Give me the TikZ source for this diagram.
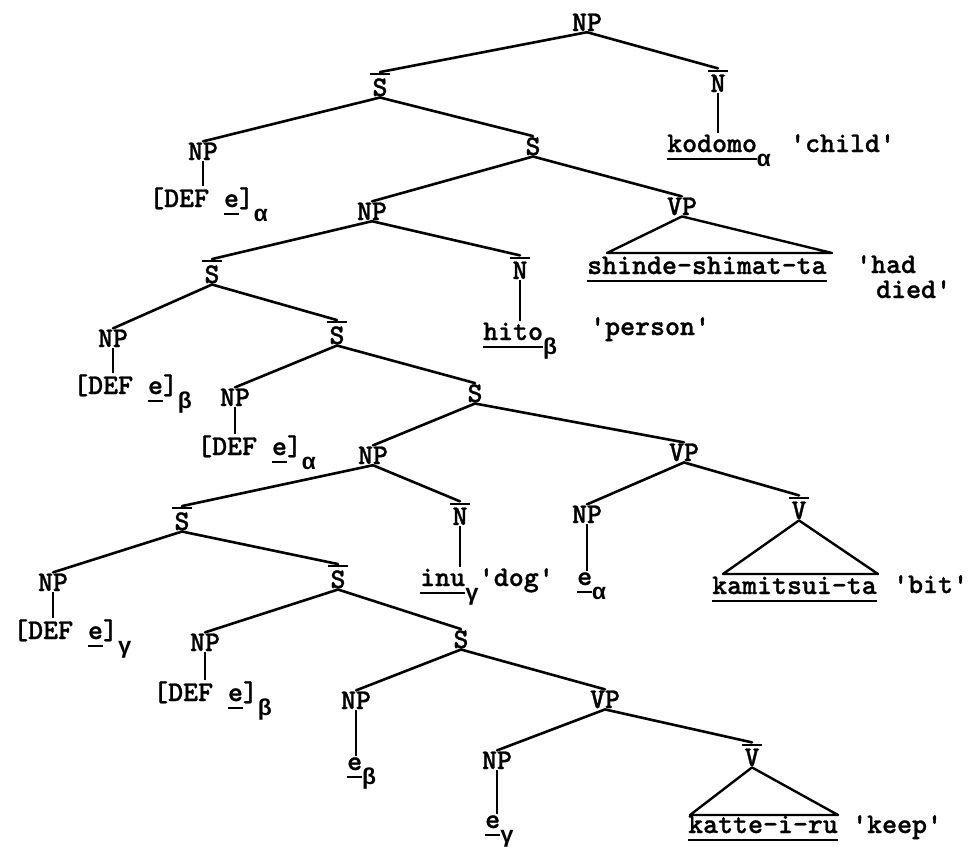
\documentclass[tikz,border=0pt]{standalone}
\usepackage{fontspec}
\setmonofont{lmmonolt10-bold.otf}[FakeBold=1]
\newfontfamily\grk{Liberation Mono}
\newsavebox\tmpbox
\newcommand{\ulw}[1]{\sbox\tmpbox{#1}\rlap{\rule[-7.5pt]{\wd\tmpbox}{2pt}}\usebox\tmpbox}
\newcommand{\ovb}[1]{\sbox\tmpbox{#1}\rlap{\kern-2.5pt\rule[\dimexpr\ht\tmpbox+3pt\relax]{\dimexpr\wd\tmpbox+5pt\relax}{2pt}}\usebox\tmpbox}
\newcommand{\gsub}[1]{\raisebox{-14pt}{\fontsize{23}{23}\grk\bfseries\selectfont #1}}
\newcommand{\twfont}{\fontsize{28.5}{30}\ttfamily\selectfont}
\begin{document}
\begin{tikzpicture}[x=1pt,y=-1pt,
  cat/.style={anchor=base, inner sep=1pt, font=\twfont},
  word/.style={anchor=base west, inner sep=1pt, font=\twfont},
  br/.style={line width=2.6pt, line cap=round},
  vl/.style={line width=1.8pt},
  tri/.style={line width=2.4pt, line join=round}]
\useasboundingbox (0,0) rectangle (971,846);

% nodes
\node[cat] (np0) at (587,31) {NP};
\node[cat] (sb1) at (380,96) {\ovb{S}};
\node[cat] (nb1) at (718,92) {\ovb{N}};
\node[word] (kod) at (666,152) {\ulw{kodomo}\gsub{α}};
\node[word] (gchild) at (789,152) {'child'};
\node[cat] (np2) at (203,160) {NP};
\node[word] (def1) at (148,207) {[DEF \ulw{e}]\gsub{α}};
\node[cat] (s3) at (533,155) {S};
\node[cat] (np4) at (372,220) {NP};
\node[cat] (vp5) at (682,215) {VP};
\node[word] (shin) at (586,274) {\ulw{shinde-shimat-ta}};
\node[word, inner sep=0pt] (ghad) at (856,273) {'had};
\node[word, inner sep=0pt] (gdied) at (876,298) {died'};
\node[cat] (sb6) at (212,283) {\ovb{S}};
\node[cat] (nb7) at (520,279) {\ovb{N}};
\node[word] (hito) at (482,340) {\ulw{hito}\gsub{β}};
\node[word] (gperson) at (589,335) {'person'};
\node[cat] (np8) at (113,347) {NP};
\node[word] (def2) at (72,394) {[DEF \ulw{e}]\gsub{β}};
\node[cat] (sb9) at (337,344) {\ovb{S}};
\node[cat] (np10) at (235,406) {NP};
\node[word] (def3) at (196,455) {[DEF \ulw{e}]\gsub{α}};
\node[cat] (s11) at (475,402) {S};
\node[cat] (np12) at (373,464) {NP};
\node[cat] (vp13) at (684,461) {VP};
\node[cat] (sb14) at (182,530) {\ovb{S}};
\node[cat] (nb15) at (460,525) {\ovb{N}};
\node[word] (inu) at (419,586) {\ulw{inu}\gsub{γ}'dog'};
\node[cat] (np16) at (587,523) {NP};
\node[word] (ea) at (576,585) {\ulw{e}\gsub{α}};
\node[cat] (vb17) at (799,519) {\ovb{V}};
\node[word] (kami) at (711,594) {\ulw{kamitsui-ta}};
\node[word] (gbit) at (892,593) {'bit'};
\node[cat] (np18) at (53,591) {NP};
\node[word] (def4) at (12,639) {[DEF \ulw{e}]\gsub{γ}};
\node[cat] (sb19) at (338,588) {\ovb{S}};
\node[cat] (np20) at (205,651) {NP};
\node[word] (def5) at (152,701) {[DEF \ulw{e}]\gsub{β}};
\node[cat] (s21) at (461,648) {S};
\node[cat] (np22) at (356,709) {NP};
\node[word] (eb) at (346,770) {\ulw{e}\gsub{β}};
\node[cat] (vp23) at (605,708) {VP};
\node[cat] (np24) at (497,769) {NP};
\node[word] (eg) at (484,828) {\ulw{e}\gsub{γ}};
\node[cat] (vb25) at (752,766) {\ovb{V}};
\node[word] (katte) at (687,833) {\ulw{katte-i-ru}};
\node[word] (gkeep) at (851,833) {'keep'};

% triangle base corners
\coordinate (t1l) at (607,253);
\coordinate (t1r) at (832,253);
\coordinate (t2l) at (723,574);
\coordinate (t2r) at (878,574);
\coordinate (t3l) at (690,815);
\coordinate (t3r) at (838,815);

% branches
\draw[br] (np0.south) -- (sb1.north);
\draw[br] (np0.south) -- (nb1.north);
\draw[br] (sb1.south) -- (np2.north);
\draw[br] (sb1.south) -- (s3.north);
\draw[br] (s3.south) -- (np4.north);
\draw[br] (s3.south) -- (vp5.north);
\draw[br] (np4.south) -- (sb6.north);
\draw[br] (np4.south) -- (nb7.north);
\draw[br] (sb6.south) -- (np8.north);
\draw[br] (sb6.south) -- (sb9.north);
\draw[br] (sb9.south) -- (np10.north);
\draw[br] (sb9.south) -- (s11.north);
\draw[br] (s11.south) -- (np12.north);
\draw[br] (s11.south) -- (vp13.north);
\draw[br] (np12.south) -- (sb14.north);
\draw[br] (np12.south) -- (nb15.north);
\draw[br] (vp13.south) -- (np16.north);
\draw[br] (vp13.south) -- (vb17.north);
\draw[br] (sb14.south) -- (np18.north);
\draw[br] (sb14.south) -- (sb19.north);
\draw[br] (sb19.south) -- (np20.north);
\draw[br] (sb19.south) -- (s21.north);
\draw[br] (s21.south) -- (np22.north);
\draw[br] (s21.south) -- (vp23.north);
\draw[br] (vp23.south) -- (np24.north);
\draw[br] (vp23.south) -- (vb25.north);

% unary lines
\draw[vl] (nb1.south) -- (nb1.south |- kod.north);
\draw[vl] (np2.south) -- (np2.south |- def1.north);
\draw[vl] (nb7.south) -- (nb7.south |- hito.north);
\draw[vl] (np8.south) -- (np8.south |- def2.north);
\draw[vl] (np10.south) -- (np10.south |- def3.north);
\draw[vl] (nb15.south) -- (nb15.south |- inu.north);
\draw[vl] (np16.south) -- (np16.south |- ea.north);
\draw[vl] (np18.south) -- (np18.south |- def4.north);
\draw[vl] (np20.south) -- (np20.south |- def5.north);
\draw[vl] (np22.south) -- (np22.south |- eb.north);
\draw[vl] (np24.south) -- (np24.south |- eg.north);

% triangles
\draw[tri] (vp5.south) -- (t1l) -- (t1r) -- cycle;
\draw[tri] (vb17.south) -- (t2l) -- (t2r) -- cycle;
\draw[tri] (vb25.south) -- (t3l) -- (t3r) -- cycle;
\end{tikzpicture}
\end{document}
